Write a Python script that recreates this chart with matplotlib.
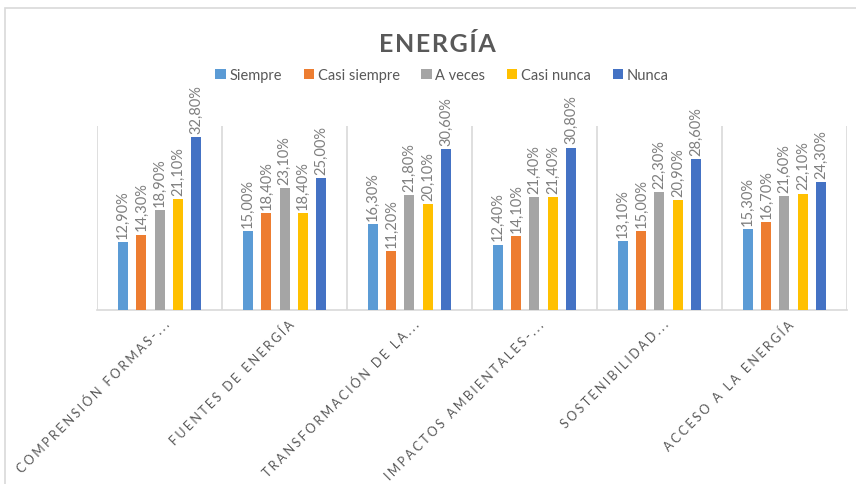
import matplotlib
matplotlib.use("Agg")
import matplotlib.pyplot as plt
from matplotlib.patches import Rectangle, Patch
import numpy as np

# chart data
categorias = ["COMPRENSIÓN FORMAS-...", "FUENTES DE ENERGÍA", "TRANSFORMACIÓN DE LA...",
              "IMPACTOS AMBIENTALES-...", "SOSTENIBILIDAD...", "ACCESO A LA ENERGÍA"]
series = ["Siempre", "Casi siempre", "A veces", "Casi nunca", "Nunca"]
siempre = [12.9, 15.0, 16.3, 12.4, 13.1, 15.3]
casi_siempre = [14.3, 18.4, 11.2, 14.1, 15.0, 16.7]
a_veces = [18.9, 23.1, 21.8, 21.4, 22.3, 21.6]
casi_nunca = [21.1, 18.4, 20.1, 21.4, 20.9, 22.1]
nunca = [32.8, 25.0, 30.6, 30.8, 28.6, 24.3]
colores = ["#5B9BD5", "#ED7D31", "#A5A5A5", "#FFC000", "#4472C4"]

plt.rcParams['font.family'] = ['Lato', 'DejaVu Sans']
gris = "#595959"
gris_claro = "#7F7F7F"
linea = "#D9D9D9"

fig = plt.figure(figsize=(8.56, 4.85), dpi=100)
fig.patches.append(Rectangle((5 / 856, -0.1), 2, 1.1 - 9 / 485, transform=fig.transFigure,
                             fill=False, edgecolor=linea, lw=1.2))
ax = fig.add_axes([97 / 856, 1 - 311 / 485, 750 / 856, 184.5 / 485])

x = np.arange(len(categorias))
valores = [siempre, casi_siempre, a_veces, casi_nunca, nunca]
paso = 0.146
ancho = 0.08
for k, (nombre, vals, col) in enumerate(zip(series, valores, colores)):
    pos = x + (k - 2) * paso
    ax.bar(pos, vals, ancho, color=col, label=nombre, zorder=3)
    for p, v in zip(pos, vals):
        ax.annotate(f"{v:.2f}%".replace('.', ','), (p, v), xytext=(0, 3),
                    textcoords="offset points", rotation=90, ha='center', va='bottom',
                    fontsize=10.5, color=gris_claro)

ax.set_xlim(-0.5, len(categorias) - 0.5)
ax.set_ylim(0, 35)
for b in np.arange(-0.5, len(categorias), 1):
    ax.axvline(b, color=linea, lw=1.2, zorder=1)
for s in ['left', 'right', 'top']:
    ax.spines[s].set_visible(False)
ax.spines['bottom'].set_color(linea)
ax.spines['bottom'].set_linewidth(1.2)
ax.set_yticks([])
ax.set_xticks([])

# category labels, letter spaced, rotated 45
for i, cat in enumerate(categorias):
    espaciado = "\u2009\u200a".join(cat)
    ax.text(i + 0.06, -0.065, espaciado, transform=ax.get_xaxis_transform(),
            rotation=45, rotation_mode='anchor', ha='right', va='center',
            fontsize=9, color=gris)

fig.text(437 / 856, 1 - 44 / 485, "\u200a".join("ENERGÍA"), ha='center', va='center',
         fontsize=18, fontweight='bold', color=gris)

handles = [Patch(facecolor=c, label=n) for n, c in zip(series, colores)]
fig.legend(handles=handles, loc='center', bbox_to_anchor=(442 / 856, 1 - 76 / 485), ncol=5,
           frameon=False, handlelength=0.7, handleheight=0.7, handletextpad=0.25,
           columnspacing=1.5, fontsize=10.5, labelcolor=gris)

fig.savefig("out.png", dpi=100)
